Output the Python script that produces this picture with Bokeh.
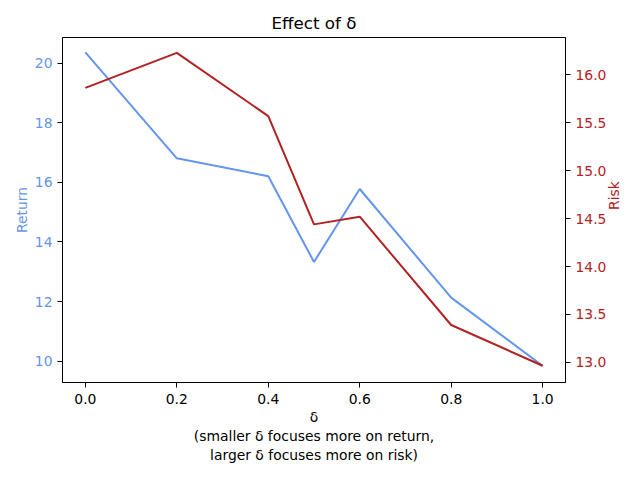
import math

from bokeh.embed import file_html
from bokeh.resources import INLINE
from bokeh.plotting import figure
from bokeh.models import Range1d, LinearAxis, FixedTicker, PrintfTickFormatter

# valeurs
delta = [0.0, 0.2, 0.4, 0.5, 0.6, 0.8, 1.0]
returns = [20.37, 16.81, 16.21, 13.33, 15.78, 12.13, 9.84]
risks = [15.865, 16.23, 15.57, 14.44, 14.52, 13.39, 12.965]

x_ticks = [0.0, 0.2, 0.4, 0.6, 0.8, 1.0]
return_ticks = [10, 12, 14, 16, 18, 20]
risk_ticks = [13.0, 13.5, 14.0, 14.5, 15.0, 15.5, 16.0]

blue = "#6495ED"
red = "#B22222"
font = "DejaVu Sans"

p = figure(
    width=640, height=480,
    x_range=Range1d(-0.05, 1.05),
    y_range=Range1d(9.28, 20.87),
    output_backend="svg", toolbar_location=None,
    min_border_left=62, min_border_right=75, min_border_top=37, min_border_bottom=98,
    title="Effect of δ",
)
p.extra_y_ranges = {"risk": Range1d(12.79, 16.39)}

p.title.align = "center"
p.title.text_font = font
p.title.text_font_size = "16.7px"
p.title.text_font_style = "normal"
p.title.text_color = "black"

p.grid.visible = False
p.outline_line_color = "black"
p.outline_line_width = 1
p.background_fill_color = "white"
p.border_fill_color = "white"

p.line(delta, returns, line_color=blue, line_width=2)
p.line(delta, risks, line_color=red, line_width=2, y_range_name="risk")

right_axis = LinearAxis(y_range_name="risk")
p.add_layout(right_axis, "right")

for ax in [p.xaxis[0], p.yaxis[0], right_axis]:
    ax.major_tick_in = 0
    ax.major_tick_out = 5
    ax.minor_tick_line_color = None
    ax.axis_line_color = "black"
    ax.major_tick_line_color = "black"
    ax.major_label_text_font = font
    ax.major_label_text_font_size = "13.9px"
    ax.axis_label_text_font = font
    ax.axis_label_text_font_size = "13.9px"
    ax.axis_label_text_font_style = "normal"

p.xaxis.ticker = FixedTicker(ticks=x_ticks)
p.xaxis.formatter = PrintfTickFormatter(format="%.1f")
p.xaxis.major_label_text_color = "black"
p.xaxis.major_label_standoff = 6
p.xaxis.axis_label = "δ\n(smaller δ focuses more on return,\nlarger δ focuses more on risk)"
p.xaxis.axis_label_text_color = "black"
p.xaxis.axis_label_standoff = 2

p.yaxis[0].ticker = FixedTicker(ticks=return_ticks)
p.yaxis[0].formatter = PrintfTickFormatter(format="%d")
p.yaxis[0].major_label_text_color = blue
p.yaxis[0].major_label_standoff = 5
p.yaxis[0].axis_label = "Return"
p.yaxis[0].axis_label_text_color = blue
p.yaxis[0].axis_label_standoff = 2

# axe de droite pour le risque
right_axis.ticker = FixedTicker(ticks=risk_ticks)
right_axis.formatter = PrintfTickFormatter(format="%.1f")
right_axis.major_label_text_color = red
right_axis.major_label_standoff = 5
right_axis.axis_label = "Risk"
right_axis.axis_label_text_color = red
right_axis.axis_label_standoff = 5
right_axis.axis_label_orientation = math.pi / 2

open("out.html", "w").write(file_html(p, INLINE))
